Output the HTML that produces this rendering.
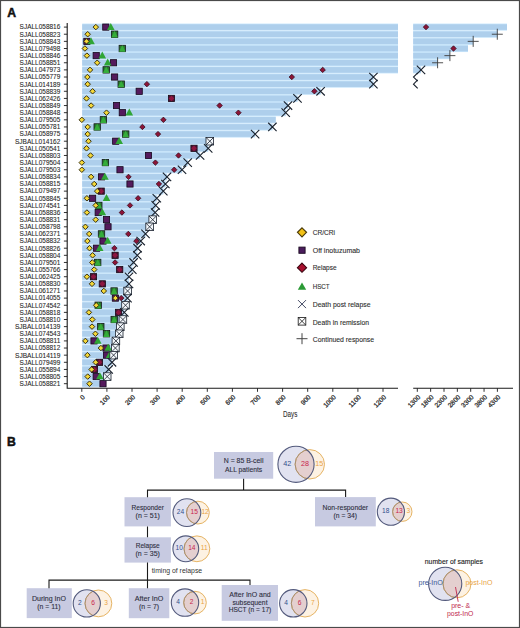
<!DOCTYPE html>
<html><head><meta charset="utf-8"><title>Figure</title>
<style>html,body{margin:0;padding:0;background:#fff;}svg{display:block;font-family:"Liberation Sans",sans-serif;}</style>
</head><body>
<svg width="520" height="628" viewBox="0 0 520 628">
<rect x="0.5" y="0.5" width="519" height="627" fill="#fff" stroke="#4a4a4a" stroke-width="1.2"/>
<text x="7.2" y="17" font-size="12.2" font-weight="bold" fill="#111" stroke="#111" stroke-width="0.5">A</text>
<text x="7.1" y="445.8" font-size="12.2" font-weight="bold" fill="#111" stroke="#111" stroke-width="0.5">B</text>
<g><rect x="82.2" y="23.53" width="315.8" height="7.13" fill="#cae7fc"/><rect x="82.2" y="24.28" width="315.8" height="5.63" fill="#aecfec"/><rect x="413.2" y="23.53" width="93.8" height="7.13" fill="#cae7fc"/><rect x="413.2" y="24.28" width="93.8" height="5.63" fill="#aecfec"/><rect x="82.2" y="30.67" width="315.8" height="7.13" fill="#cae7fc"/><rect x="82.2" y="31.42" width="315.8" height="5.63" fill="#aecfec"/><rect x="413.2" y="30.67" width="84.1" height="7.13" fill="#cae7fc"/><rect x="413.2" y="31.42" width="84.1" height="5.63" fill="#aecfec"/><rect x="82.2" y="37.8" width="315.8" height="7.13" fill="#cae7fc"/><rect x="82.2" y="38.55" width="315.8" height="5.63" fill="#aecfec"/><rect x="413.2" y="37.8" width="60" height="7.13" fill="#cae7fc"/><rect x="413.2" y="38.55" width="60" height="5.63" fill="#aecfec"/><rect x="82.2" y="44.93" width="315.8" height="7.13" fill="#cae7fc"/><rect x="82.2" y="45.68" width="315.8" height="5.63" fill="#aecfec"/><rect x="413.2" y="44.93" width="54.8" height="7.13" fill="#cae7fc"/><rect x="413.2" y="45.68" width="54.8" height="5.63" fill="#aecfec"/><rect x="82.2" y="52.06" width="315.8" height="7.13" fill="#cae7fc"/><rect x="82.2" y="52.81" width="315.8" height="5.63" fill="#aecfec"/><rect x="413.2" y="52.06" width="36.8" height="7.13" fill="#cae7fc"/><rect x="413.2" y="52.81" width="36.8" height="5.63" fill="#aecfec"/><rect x="82.2" y="59.19" width="315.8" height="7.13" fill="#cae7fc"/><rect x="82.2" y="59.94" width="315.8" height="5.63" fill="#aecfec"/><rect x="413.2" y="59.19" width="24.4" height="7.13" fill="#cae7fc"/><rect x="413.2" y="59.94" width="24.4" height="5.63" fill="#aecfec"/><rect x="82.2" y="66.33" width="315.8" height="7.13" fill="#cae7fc"/><rect x="82.2" y="67.08" width="315.8" height="5.63" fill="#aecfec"/><rect x="413.2" y="66.33" width="7.8" height="7.13" fill="#cae7fc"/><rect x="413.2" y="67.08" width="7.8" height="5.63" fill="#aecfec"/><rect x="82.2" y="73.46" width="291.2" height="7.13" fill="#cae7fc"/><rect x="82.2" y="74.21" width="291.2" height="5.63" fill="#aecfec"/><rect x="82.2" y="80.59" width="291.2" height="7.13" fill="#cae7fc"/><rect x="82.2" y="81.34" width="291.2" height="5.63" fill="#aecfec"/><rect x="82.2" y="87.72" width="238.4" height="7.13" fill="#cae7fc"/><rect x="82.2" y="88.47" width="238.4" height="5.63" fill="#aecfec"/><rect x="82.2" y="94.85" width="215.3" height="7.13" fill="#cae7fc"/><rect x="82.2" y="95.6" width="215.3" height="5.63" fill="#aecfec"/><rect x="82.2" y="101.99" width="205.8" height="7.13" fill="#cae7fc"/><rect x="82.2" y="102.74" width="205.8" height="5.63" fill="#aecfec"/><rect x="82.2" y="109.12" width="203.5" height="7.13" fill="#cae7fc"/><rect x="82.2" y="109.87" width="203.5" height="5.63" fill="#aecfec"/><rect x="82.2" y="116.25" width="193.5" height="7.13" fill="#cae7fc"/><rect x="82.2" y="117" width="193.5" height="5.63" fill="#aecfec"/><rect x="82.2" y="123.38" width="190.2" height="7.13" fill="#cae7fc"/><rect x="82.2" y="124.13" width="190.2" height="5.63" fill="#aecfec"/><rect x="82.2" y="130.51" width="172.9" height="7.13" fill="#cae7fc"/><rect x="82.2" y="131.26" width="172.9" height="5.63" fill="#aecfec"/><rect x="82.2" y="137.65" width="127.6" height="7.13" fill="#cae7fc"/><rect x="82.2" y="138.4" width="127.6" height="5.63" fill="#aecfec"/><rect x="82.2" y="144.78" width="126" height="7.13" fill="#cae7fc"/><rect x="82.2" y="145.53" width="126" height="5.63" fill="#aecfec"/><rect x="82.2" y="151.91" width="117.9" height="7.13" fill="#cae7fc"/><rect x="82.2" y="152.66" width="117.9" height="5.63" fill="#aecfec"/><rect x="82.2" y="159.04" width="105.5" height="7.13" fill="#cae7fc"/><rect x="82.2" y="159.79" width="105.5" height="5.63" fill="#aecfec"/><rect x="82.2" y="166.17" width="99.8" height="7.13" fill="#cae7fc"/><rect x="82.2" y="166.92" width="99.8" height="5.63" fill="#aecfec"/><rect x="82.2" y="173.31" width="84.8" height="7.13" fill="#cae7fc"/><rect x="82.2" y="174.06" width="84.8" height="5.63" fill="#aecfec"/><rect x="82.2" y="180.44" width="83.2" height="7.13" fill="#cae7fc"/><rect x="82.2" y="181.19" width="83.2" height="5.63" fill="#aecfec"/><rect x="82.2" y="187.57" width="81.1" height="7.13" fill="#cae7fc"/><rect x="82.2" y="188.32" width="81.1" height="5.63" fill="#aecfec"/><rect x="82.2" y="194.7" width="74.6" height="7.13" fill="#cae7fc"/><rect x="82.2" y="195.45" width="74.6" height="5.63" fill="#aecfec"/><rect x="82.2" y="201.83" width="73.5" height="7.13" fill="#cae7fc"/><rect x="82.2" y="202.58" width="73.5" height="5.63" fill="#aecfec"/><rect x="82.2" y="208.97" width="72.9" height="7.13" fill="#cae7fc"/><rect x="82.2" y="209.72" width="72.9" height="5.63" fill="#aecfec"/><rect x="82.2" y="216.1" width="70.5" height="7.13" fill="#cae7fc"/><rect x="82.2" y="216.85" width="70.5" height="5.63" fill="#aecfec"/><rect x="82.2" y="223.23" width="67.4" height="7.13" fill="#cae7fc"/><rect x="82.2" y="223.98" width="67.4" height="5.63" fill="#aecfec"/><rect x="82.2" y="230.36" width="63.3" height="7.13" fill="#cae7fc"/><rect x="82.2" y="231.11" width="63.3" height="5.63" fill="#aecfec"/><rect x="82.2" y="237.49" width="58.5" height="7.13" fill="#cae7fc"/><rect x="82.2" y="238.24" width="58.5" height="5.63" fill="#aecfec"/><rect x="82.2" y="244.63" width="55.4" height="7.13" fill="#cae7fc"/><rect x="82.2" y="245.38" width="55.4" height="5.63" fill="#aecfec"/><rect x="82.2" y="251.76" width="55.1" height="7.13" fill="#cae7fc"/><rect x="82.2" y="252.51" width="55.1" height="5.63" fill="#aecfec"/><rect x="82.2" y="258.89" width="51.4" height="7.13" fill="#cae7fc"/><rect x="82.2" y="259.64" width="51.4" height="5.63" fill="#aecfec"/><rect x="82.2" y="266.02" width="50.1" height="7.13" fill="#cae7fc"/><rect x="82.2" y="266.77" width="50.1" height="5.63" fill="#aecfec"/><rect x="82.2" y="273.15" width="46.8" height="7.13" fill="#cae7fc"/><rect x="82.2" y="273.9" width="46.8" height="5.63" fill="#aecfec"/><rect x="82.2" y="280.29" width="46.8" height="7.13" fill="#cae7fc"/><rect x="82.2" y="281.04" width="46.8" height="5.63" fill="#aecfec"/><rect x="82.2" y="287.42" width="45.4" height="7.13" fill="#cae7fc"/><rect x="82.2" y="288.17" width="45.4" height="5.63" fill="#aecfec"/><rect x="82.2" y="294.55" width="45.3" height="7.13" fill="#cae7fc"/><rect x="82.2" y="295.3" width="45.3" height="5.63" fill="#aecfec"/><rect x="82.2" y="301.68" width="43.3" height="7.13" fill="#cae7fc"/><rect x="82.2" y="302.43" width="43.3" height="5.63" fill="#aecfec"/><rect x="82.2" y="308.81" width="42.1" height="7.13" fill="#cae7fc"/><rect x="82.2" y="309.56" width="42.1" height="5.63" fill="#aecfec"/><rect x="82.2" y="315.95" width="40.7" height="7.13" fill="#cae7fc"/><rect x="82.2" y="316.7" width="40.7" height="5.63" fill="#aecfec"/><rect x="82.2" y="323.08" width="38.1" height="7.13" fill="#cae7fc"/><rect x="82.2" y="323.83" width="38.1" height="5.63" fill="#aecfec"/><rect x="82.2" y="330.21" width="37" height="7.13" fill="#cae7fc"/><rect x="82.2" y="330.96" width="37" height="5.63" fill="#aecfec"/><rect x="82.2" y="337.34" width="33.7" height="7.13" fill="#cae7fc"/><rect x="82.2" y="338.09" width="33.7" height="5.63" fill="#aecfec"/><rect x="82.2" y="344.47" width="33.2" height="7.13" fill="#cae7fc"/><rect x="82.2" y="345.22" width="33.2" height="5.63" fill="#aecfec"/><rect x="82.2" y="351.61" width="31.4" height="7.13" fill="#cae7fc"/><rect x="82.2" y="352.36" width="31.4" height="5.63" fill="#aecfec"/><rect x="82.2" y="358.74" width="29.8" height="7.13" fill="#cae7fc"/><rect x="82.2" y="359.49" width="29.8" height="5.63" fill="#aecfec"/><rect x="82.2" y="365.87" width="26.5" height="7.13" fill="#cae7fc"/><rect x="82.2" y="366.62" width="26.5" height="5.63" fill="#aecfec"/><rect x="82.2" y="373" width="25" height="7.13" fill="#cae7fc"/><rect x="82.2" y="373.75" width="25" height="5.63" fill="#aecfec"/><rect x="82.2" y="380.13" width="23.8" height="7.13" fill="#cae7fc"/><rect x="82.2" y="380.88" width="23.8" height="5.63" fill="#aecfec"/></g>
<path d="M67.2 23.1V388.3H398" stroke="#1a1a1a" stroke-width="1.1" fill="none"/>
<path d="M413.2 388.3H513" stroke="#1a1a1a" stroke-width="1.1" fill="none"/>
<path d="M63.9 27.1H67.2M63.9 34.23H67.2M63.9 41.36H67.2M63.9 48.5H67.2M63.9 55.63H67.2M63.9 62.76H67.2M63.9 69.89H67.2M63.9 77.02H67.2M63.9 84.16H67.2M63.9 91.29H67.2M63.9 98.42H67.2M63.9 105.55H67.2M63.9 112.68H67.2M63.9 119.82H67.2M63.9 126.95H67.2M63.9 134.08H67.2M63.9 141.21H67.2M63.9 148.34H67.2M63.9 155.48H67.2M63.9 162.61H67.2M63.9 169.74H67.2M63.9 176.87H67.2M63.9 184H67.2M63.9 191.14H67.2M63.9 198.27H67.2M63.9 205.4H67.2M63.9 212.53H67.2M63.9 219.66H67.2M63.9 226.8H67.2M63.9 233.93H67.2M63.9 241.06H67.2M63.9 248.19H67.2M63.9 255.32H67.2M63.9 262.46H67.2M63.9 269.59H67.2M63.9 276.72H67.2M63.9 283.85H67.2M63.9 290.98H67.2M63.9 298.12H67.2M63.9 305.25H67.2M63.9 312.38H67.2M63.9 319.51H67.2M63.9 326.64H67.2M63.9 333.78H67.2M63.9 340.91H67.2M63.9 348.04H67.2M63.9 355.17H67.2M63.9 362.3H67.2M63.9 369.44H67.2M63.9 376.57H67.2M63.9 383.7H67.2" stroke="#1a1a1a" stroke-width="0.9"/>
<g font-size="6.6" fill="#262626" stroke="#262626" stroke-width="0.08"><text x="60.3" y="29.45" text-anchor="end" textLength="40.7" lengthAdjust="spacingAndGlyphs">SJALL058816</text><text x="60.3" y="36.58" text-anchor="end" textLength="40.7" lengthAdjust="spacingAndGlyphs">SJALL058823</text><text x="60.3" y="43.71" text-anchor="end" textLength="40.7" lengthAdjust="spacingAndGlyphs">SJALL058843</text><text x="60.3" y="50.85" text-anchor="end" textLength="40.7" lengthAdjust="spacingAndGlyphs">SJALL079498</text><text x="60.3" y="57.98" text-anchor="end" textLength="40.7" lengthAdjust="spacingAndGlyphs">SJALL058846</text><text x="60.3" y="65.11" text-anchor="end" textLength="40.7" lengthAdjust="spacingAndGlyphs">SJALL058851</text><text x="60.3" y="72.24" text-anchor="end" textLength="40.7" lengthAdjust="spacingAndGlyphs">SJALL047973</text><text x="60.3" y="79.37" text-anchor="end" textLength="40.7" lengthAdjust="spacingAndGlyphs">SJALL055779</text><text x="60.3" y="86.51" text-anchor="end" textLength="40.7" lengthAdjust="spacingAndGlyphs">SJALL014189</text><text x="60.3" y="93.64" text-anchor="end" textLength="40.7" lengthAdjust="spacingAndGlyphs">SJALL058839</text><text x="60.3" y="100.77" text-anchor="end" textLength="40.7" lengthAdjust="spacingAndGlyphs">SJALL062426</text><text x="60.3" y="107.9" text-anchor="end" textLength="40.7" lengthAdjust="spacingAndGlyphs">SJALL058849</text><text x="60.3" y="115.03" text-anchor="end" textLength="40.7" lengthAdjust="spacingAndGlyphs">SJALL058848</text><text x="60.3" y="122.17" text-anchor="end" textLength="40.7" lengthAdjust="spacingAndGlyphs">SJALL079505</text><text x="60.3" y="129.3" text-anchor="end" textLength="40.7" lengthAdjust="spacingAndGlyphs">SJALL055781</text><text x="60.3" y="136.43" text-anchor="end" textLength="40.7" lengthAdjust="spacingAndGlyphs">SJALL058975</text><text x="60.3" y="143.56" text-anchor="end" textLength="45.3" lengthAdjust="spacingAndGlyphs">SJBALL014162</text><text x="60.3" y="150.69" text-anchor="end" textLength="40.7" lengthAdjust="spacingAndGlyphs">SJALL050541</text><text x="60.3" y="157.83" text-anchor="end" textLength="40.7" lengthAdjust="spacingAndGlyphs">SJALL058803</text><text x="60.3" y="164.96" text-anchor="end" textLength="40.7" lengthAdjust="spacingAndGlyphs">SJALL079504</text><text x="60.3" y="172.09" text-anchor="end" textLength="40.7" lengthAdjust="spacingAndGlyphs">SJALL079503</text><text x="60.3" y="179.22" text-anchor="end" textLength="40.7" lengthAdjust="spacingAndGlyphs">SJALL058834</text><text x="60.3" y="186.35" text-anchor="end" textLength="40.7" lengthAdjust="spacingAndGlyphs">SJALL058815</text><text x="60.3" y="193.49" text-anchor="end" textLength="40.7" lengthAdjust="spacingAndGlyphs">SJALL079497</text><text x="60.3" y="200.62" text-anchor="end" textLength="40.7" lengthAdjust="spacingAndGlyphs">SJALL058845</text><text x="60.3" y="207.75" text-anchor="end" textLength="40.7" lengthAdjust="spacingAndGlyphs">SJALL074541</text><text x="60.3" y="214.88" text-anchor="end" textLength="40.7" lengthAdjust="spacingAndGlyphs">SJALL058836</text><text x="60.3" y="222.01" text-anchor="end" textLength="40.7" lengthAdjust="spacingAndGlyphs">SJALL058831</text><text x="60.3" y="229.15" text-anchor="end" textLength="40.7" lengthAdjust="spacingAndGlyphs">SJALL058798</text><text x="60.3" y="236.28" text-anchor="end" textLength="40.7" lengthAdjust="spacingAndGlyphs">SJALL062371</text><text x="60.3" y="243.41" text-anchor="end" textLength="40.7" lengthAdjust="spacingAndGlyphs">SJALL058832</text><text x="60.3" y="250.54" text-anchor="end" textLength="40.7" lengthAdjust="spacingAndGlyphs">SJALL058826</text><text x="60.3" y="257.67" text-anchor="end" textLength="40.7" lengthAdjust="spacingAndGlyphs">SJALL058804</text><text x="60.3" y="264.81" text-anchor="end" textLength="40.7" lengthAdjust="spacingAndGlyphs">SJALL079501</text><text x="60.3" y="271.94" text-anchor="end" textLength="40.7" lengthAdjust="spacingAndGlyphs">SJALL055766</text><text x="60.3" y="279.07" text-anchor="end" textLength="40.7" lengthAdjust="spacingAndGlyphs">SJALL062425</text><text x="60.3" y="286.2" text-anchor="end" textLength="40.7" lengthAdjust="spacingAndGlyphs">SJALL058830</text><text x="60.3" y="293.33" text-anchor="end" textLength="40.7" lengthAdjust="spacingAndGlyphs">SJALL061271</text><text x="60.3" y="300.47" text-anchor="end" textLength="40.7" lengthAdjust="spacingAndGlyphs">SJALL014055</text><text x="60.3" y="307.6" text-anchor="end" textLength="40.7" lengthAdjust="spacingAndGlyphs">SJALL074542</text><text x="60.3" y="314.73" text-anchor="end" textLength="40.7" lengthAdjust="spacingAndGlyphs">SJALL058818</text><text x="60.3" y="321.86" text-anchor="end" textLength="40.7" lengthAdjust="spacingAndGlyphs">SJALL058810</text><text x="60.3" y="328.99" text-anchor="end" textLength="45.3" lengthAdjust="spacingAndGlyphs">SJBALL014139</text><text x="60.3" y="336.13" text-anchor="end" textLength="40.7" lengthAdjust="spacingAndGlyphs">SJALL074543</text><text x="60.3" y="343.26" text-anchor="end" textLength="40.7" lengthAdjust="spacingAndGlyphs">SJALL058811</text><text x="60.3" y="350.39" text-anchor="end" textLength="40.7" lengthAdjust="spacingAndGlyphs">SJALL058812</text><text x="60.3" y="357.52" text-anchor="end" textLength="45.3" lengthAdjust="spacingAndGlyphs">SJBALL014119</text><text x="60.3" y="364.65" text-anchor="end" textLength="40.7" lengthAdjust="spacingAndGlyphs">SJALL079499</text><text x="60.3" y="371.79" text-anchor="end" textLength="40.7" lengthAdjust="spacingAndGlyphs">SJALL055894</text><text x="60.3" y="378.92" text-anchor="end" textLength="40.7" lengthAdjust="spacingAndGlyphs">SJALL058805</text><text x="60.3" y="386.05" text-anchor="end" textLength="40.7" lengthAdjust="spacingAndGlyphs">SJALL058821</text></g>
<path d="M81.8 388.3V391.8M106.9 388.3V391.8M132 388.3V391.8M157.1 388.3V391.8M182.2 388.3V391.8M207.3 388.3V391.8M232.4 388.3V391.8M257.5 388.3V391.8M282.6 388.3V391.8M307.7 388.3V391.8M332.8 388.3V391.8M357.9 388.3V391.8M383 388.3V391.8M417.3 388.3V391.8M430.65 388.3V391.8M444 388.3V391.8M457.35 388.3V391.8M470.7 388.3V391.8M484.05 388.3V391.8M497.4 388.3V391.8" stroke="#1a1a1a" stroke-width="0.9"/>
<g font-size="6.6" fill="#2a2a2a"><text stroke="#2a2a2a" stroke-width="0.25" transform="translate(85.3 397.6) rotate(-45)" text-anchor="end">0</text><text stroke="#2a2a2a" stroke-width="0.25" transform="translate(110.4 397.6) rotate(-45)" text-anchor="end">100</text><text stroke="#2a2a2a" stroke-width="0.25" transform="translate(135.5 397.6) rotate(-45)" text-anchor="end">200</text><text stroke="#2a2a2a" stroke-width="0.25" transform="translate(160.6 397.6) rotate(-45)" text-anchor="end">300</text><text stroke="#2a2a2a" stroke-width="0.25" transform="translate(185.7 397.6) rotate(-45)" text-anchor="end">400</text><text stroke="#2a2a2a" stroke-width="0.25" transform="translate(210.8 397.6) rotate(-45)" text-anchor="end">500</text><text stroke="#2a2a2a" stroke-width="0.25" transform="translate(235.9 397.6) rotate(-45)" text-anchor="end">600</text><text stroke="#2a2a2a" stroke-width="0.25" transform="translate(261 397.6) rotate(-45)" text-anchor="end">700</text><text stroke="#2a2a2a" stroke-width="0.25" transform="translate(286.1 397.6) rotate(-45)" text-anchor="end">800</text><text stroke="#2a2a2a" stroke-width="0.25" transform="translate(311.2 397.6) rotate(-45)" text-anchor="end">900</text><text stroke="#2a2a2a" stroke-width="0.25" transform="translate(336.3 397.6) rotate(-45)" text-anchor="end">1000</text><text stroke="#2a2a2a" stroke-width="0.25" transform="translate(361.4 397.6) rotate(-45)" text-anchor="end">1100</text><text stroke="#2a2a2a" stroke-width="0.25" transform="translate(386.5 397.6) rotate(-45)" text-anchor="end">1200</text><text stroke="#2a2a2a" stroke-width="0.25" transform="translate(420.8 397.6) rotate(-45)" text-anchor="end">1300</text><text stroke="#2a2a2a" stroke-width="0.25" transform="translate(434.15 397.6) rotate(-45)" text-anchor="end">1800</text><text stroke="#2a2a2a" stroke-width="0.25" transform="translate(447.5 397.6) rotate(-45)" text-anchor="end">2300</text><text stroke="#2a2a2a" stroke-width="0.25" transform="translate(460.85 397.6) rotate(-45)" text-anchor="end">2800</text><text stroke="#2a2a2a" stroke-width="0.25" transform="translate(474.2 397.6) rotate(-45)" text-anchor="end">3300</text><text stroke="#2a2a2a" stroke-width="0.25" transform="translate(487.55 397.6) rotate(-45)" text-anchor="end">3800</text><text stroke="#2a2a2a" stroke-width="0.25" transform="translate(500.9 397.6) rotate(-45)" text-anchor="end">4300</text></g>
<text x="290.2" y="416.7" font-size="8.2" fill="#333" stroke="#333" stroke-width="0.1" text-anchor="middle" textLength="14.4" lengthAdjust="spacingAndGlyphs">Days</text>
<g><rect x="102.7" y="24" width="6.2" height="6.2" fill="#541a5c" stroke="#16081c" stroke-width="0.8"/><rect x="111.4" y="31.03" width="6.4" height="6.4" fill="#2a7a2e" stroke="#14181a" stroke-width="0.8"/><rect x="83.8" y="38.26" width="6.2" height="6.2" fill="#541a5c" stroke="#16081c" stroke-width="0.8"/><rect x="119.1" y="45.3" width="6.4" height="6.4" fill="#2a7a2e" stroke="#14181a" stroke-width="0.8"/><rect x="93.1" y="52.53" width="6.2" height="6.2" fill="#541a5c" stroke="#16081c" stroke-width="0.8"/><rect x="110.4" y="59.66" width="6.2" height="6.2" fill="#541a5c" stroke="#16081c" stroke-width="0.8"/><rect x="103" y="66.69" width="6.4" height="6.4" fill="#2a7a2e" stroke="#14181a" stroke-width="0.8"/><rect x="111.5" y="73.92" width="6.2" height="6.2" fill="#541a5c" stroke="#16081c" stroke-width="0.8"/><rect x="118" y="80.96" width="6.4" height="6.4" fill="#2a7a2e" stroke="#14181a" stroke-width="0.8"/><rect x="136.1" y="88.19" width="6.2" height="6.2" fill="#541a5c" stroke="#16081c" stroke-width="0.8"/><rect x="168.4" y="95.32" width="6.2" height="6.2" fill="#4c1234" stroke="#1a0814" stroke-width="0.8"/><rect x="113.4" y="102.45" width="6.2" height="6.2" fill="#541a5c" stroke="#16081c" stroke-width="0.8"/><rect x="119.2" y="109.58" width="6.2" height="6.2" fill="#541a5c" stroke="#16081c" stroke-width="0.8"/><rect x="100.2" y="116.62" width="6.4" height="6.4" fill="#2a7a2e" stroke="#14181a" stroke-width="0.8"/><rect x="94" y="123.75" width="6.4" height="6.4" fill="#2a7a2e" stroke="#14181a" stroke-width="0.8"/><rect x="122.5" y="130.88" width="6.4" height="6.4" fill="#2a7a2e" stroke="#14181a" stroke-width="0.8"/><rect x="112.6" y="138.11" width="6.2" height="6.2" fill="#541a5c" stroke="#16081c" stroke-width="0.8"/><rect x="190.9" y="145.24" width="6.2" height="6.2" fill="#4c1234" stroke="#1a0814" stroke-width="0.8"/><rect x="145.4" y="152.38" width="6.2" height="6.2" fill="#541a5c" stroke="#16081c" stroke-width="0.8"/><rect x="102.2" y="159.41" width="6.4" height="6.4" fill="#2a7a2e" stroke="#14181a" stroke-width="0.8"/><rect x="116.9" y="166.64" width="6.2" height="6.2" fill="#541a5c" stroke="#16081c" stroke-width="0.8"/><rect x="98.4" y="173.77" width="6.2" height="6.2" fill="#541a5c" stroke="#16081c" stroke-width="0.8"/><rect x="126.9" y="180.9" width="6.2" height="6.2" fill="#541a5c" stroke="#16081c" stroke-width="0.8"/><rect x="98.1" y="188.04" width="6.2" height="6.2" fill="#4c1234" stroke="#1a0814" stroke-width="0.8"/><rect x="89.5" y="195.17" width="6.2" height="6.2" fill="#541a5c" stroke="#16081c" stroke-width="0.8"/><rect x="95.6" y="202.2" width="6.4" height="6.4" fill="#2a7a2e" stroke="#14181a" stroke-width="0.8"/><rect x="95.1" y="209.43" width="6.2" height="6.2" fill="#541a5c" stroke="#16081c" stroke-width="0.8"/><rect x="103.4" y="216.56" width="6.2" height="6.2" fill="#541a5c" stroke="#16081c" stroke-width="0.8"/><rect x="104.9" y="223.7" width="6.2" height="6.2" fill="#541a5c" stroke="#16081c" stroke-width="0.8"/><rect x="98.3" y="230.73" width="6.4" height="6.4" fill="#2a7a2e" stroke="#14181a" stroke-width="0.8"/><rect x="99.9" y="237.96" width="6.2" height="6.2" fill="#541a5c" stroke="#16081c" stroke-width="0.8"/><rect x="93.5" y="245.09" width="6.2" height="6.2" fill="#541a5c" stroke="#16081c" stroke-width="0.8"/><rect x="112" y="252.22" width="6.2" height="6.2" fill="#4c1234" stroke="#1a0814" stroke-width="0.8"/><rect x="94.5" y="259.26" width="6.4" height="6.4" fill="#2a7a2e" stroke="#14181a" stroke-width="0.8"/><rect x="116.6" y="266.49" width="6.2" height="6.2" fill="#4c1234" stroke="#1a0814" stroke-width="0.8"/><rect x="90.4" y="273.62" width="6.2" height="6.2" fill="#4c1234" stroke="#1a0814" stroke-width="0.8"/><rect x="99.2" y="280.75" width="6.2" height="6.2" fill="#4c1234" stroke="#1a0814" stroke-width="0.8"/><rect x="110.9" y="287.78" width="6.4" height="6.4" fill="#2a7a2e" stroke="#14181a" stroke-width="0.8"/><rect x="112.3" y="295.02" width="6.2" height="6.2" fill="#541a5c" stroke="#16081c" stroke-width="0.8"/><rect x="95" y="302.05" width="6.4" height="6.4" fill="#2a7a2e" stroke="#14181a" stroke-width="0.8"/><rect x="115.4" y="309.28" width="6.2" height="6.2" fill="#4c1234" stroke="#1a0814" stroke-width="0.8"/><rect x="111" y="316.31" width="6.4" height="6.4" fill="#2a7a2e" stroke="#14181a" stroke-width="0.8"/><rect x="97.6" y="323.44" width="6.4" height="6.4" fill="#2a7a2e" stroke="#14181a" stroke-width="0.8"/><rect x="103.3" y="330.58" width="6.4" height="6.4" fill="#2a7a2e" stroke="#14181a" stroke-width="0.8"/><rect x="90.9" y="337.81" width="6.2" height="6.2" fill="#541a5c" stroke="#16081c" stroke-width="0.8"/><rect x="102.9" y="344.94" width="6.2" height="6.2" fill="#541a5c" stroke="#16081c" stroke-width="0.8"/><rect x="103.4" y="352.07" width="6.2" height="6.2" fill="#541a5c" stroke="#16081c" stroke-width="0.8"/><rect x="96.4" y="359.2" width="6.2" height="6.2" fill="#4c1234" stroke="#1a0814" stroke-width="0.8"/><rect x="91.4" y="366.34" width="6.2" height="6.2" fill="#4c1234" stroke="#1a0814" stroke-width="0.8"/><rect x="93.1" y="373.47" width="6.2" height="6.2" fill="#541a5c" stroke="#16081c" stroke-width="0.8"/><rect x="99.9" y="380.6" width="6.2" height="6.2" fill="#541a5c" stroke="#16081c" stroke-width="0.8"/><path d="M110.8 22.9L114.6 29.9L107 29.9Z" fill="#2fa535"/><path d="M114.6 30.73L117.9 37.43L111.3 37.43Z" fill="#35ad3a"/><path d="M91 37.16L94.8 44.16L87.2 44.16Z" fill="#2fa535"/><path d="M122.3 45L125.6 51.7L119 51.7Z" fill="#35ad3a"/><path d="M102.3 51.43L106.1 58.43L98.5 58.43Z" fill="#2fa535"/><path d="M107.7 58.56L111.5 65.56L103.9 65.56Z" fill="#2fa535"/><path d="M106.2 66.39L109.5 73.09L102.9 73.09Z" fill="#35ad3a"/><path d="M121.2 80.66L124.5 87.36L117.9 87.36Z" fill="#35ad3a"/><path d="M129.3 108.48L133.1 115.48L125.5 115.48Z" fill="#2fa535"/><path d="M103.4 116.32L106.7 123.02L100.1 123.02Z" fill="#35ad3a"/><path d="M97.2 123.45L100.5 130.15L93.9 130.15Z" fill="#35ad3a"/><path d="M125.7 130.58L129 137.28L122.4 137.28Z" fill="#35ad3a"/><path d="M119.2 137.01L123 144.01L115.4 144.01Z" fill="#2fa535"/><path d="M105.4 159.11L108.7 165.81L102.1 165.81Z" fill="#35ad3a"/><path d="M104.9 172.67L108.7 179.67L101.1 179.67Z" fill="#2fa535"/><path d="M106.5 194.07L110.3 201.07L102.7 201.07Z" fill="#2fa535"/><path d="M98.8 201.9L102.1 208.6L95.5 208.6Z" fill="#35ad3a"/><path d="M102.3 208.33L106.1 215.33L98.5 215.33Z" fill="#2fa535"/><path d="M101.5 230.43L104.8 237.13L98.2 237.13Z" fill="#35ad3a"/><path d="M107.7 236.86L111.5 243.86L103.9 243.86Z" fill="#2fa535"/><path d="M99.7 243.99L103.5 250.99L95.9 250.99Z" fill="#2fa535"/><path d="M97.7 258.96L101 265.66L94.4 265.66Z" fill="#35ad3a"/><path d="M114.1 287.48L117.4 294.18L110.8 294.18Z" fill="#35ad3a"/><path d="M98.2 301.75L101.5 308.45L94.9 308.45Z" fill="#35ad3a"/><path d="M114.2 316.01L117.5 322.71L110.9 322.71Z" fill="#35ad3a"/><path d="M100.8 323.14L104.1 329.84L97.5 329.84Z" fill="#35ad3a"/><path d="M106.5 330.28L109.8 336.98L103.2 336.98Z" fill="#35ad3a"/><path d="M97.8 336.71L101.6 343.71L94 343.71Z" fill="#2fa535"/><path d="M108.2 343.84L112 350.84L104.4 350.84Z" fill="#2fa535"/><path d="M109.6 350.97L113.4 357.97L105.8 357.97Z" fill="#2fa535"/><path d="M99.9 372.37L103.7 379.37L96.1 379.37Z" fill="#2fa535"/><path d="M426 24.4L428.7 27.1L426 29.8L423.3 27.1Z" fill="#8c1438" stroke="#3a0a1a" stroke-width="0.8"/><path d="M453.5 45.8L456.2 48.5L453.5 51.2L450.8 48.5Z" fill="#8c1438" stroke="#3a0a1a" stroke-width="0.8"/><path d="M322.7 67.19L325.4 69.89L322.7 72.59L320 69.89Z" fill="#8c1438" stroke="#3a0a1a" stroke-width="0.8"/><path d="M291.8 74.32L294.5 77.02L291.8 79.72L289.1 77.02Z" fill="#8c1438" stroke="#3a0a1a" stroke-width="0.8"/><path d="M146.9 81.46L149.6 84.16L146.9 86.86L144.2 84.16Z" fill="#8c1438" stroke="#3a0a1a" stroke-width="0.8"/><path d="M314.4 88.59L317.1 91.29L314.4 93.99L311.7 91.29Z" fill="#8c1438" stroke="#3a0a1a" stroke-width="0.8"/><path d="M171.5 95.62L174.3 98.42L171.5 101.22L168.7 98.42Z" fill="#8e1640" stroke="none" stroke-width="0"/><path d="M219.6 102.85L222.3 105.55L219.6 108.25L216.9 105.55Z" fill="#8c1438" stroke="#3a0a1a" stroke-width="0.8"/><path d="M238.4 109.98L241.1 112.68L238.4 115.38L235.7 112.68Z" fill="#8c1438" stroke="#3a0a1a" stroke-width="0.8"/><path d="M163.4 117.12L166.1 119.82L163.4 122.52L160.7 119.82Z" fill="#8c1438" stroke="#3a0a1a" stroke-width="0.8"/><path d="M142.4 124.25L145.1 126.95L142.4 129.65L139.7 126.95Z" fill="#8c1438" stroke="#3a0a1a" stroke-width="0.8"/><path d="M158 131.38L160.7 134.08L158 136.78L155.3 134.08Z" fill="#8c1438" stroke="#3a0a1a" stroke-width="0.8"/><path d="M194 145.54L196.8 148.34L194 151.14L191.2 148.34Z" fill="#8e1640" stroke="none" stroke-width="0"/><path d="M178.5 152.78L181.2 155.48L178.5 158.18L175.8 155.48Z" fill="#8c1438" stroke="#3a0a1a" stroke-width="0.8"/><path d="M155.4 159.91L158.1 162.61L155.4 165.31L152.7 162.61Z" fill="#8c1438" stroke="#3a0a1a" stroke-width="0.8"/><path d="M174.2 167.04L176.9 169.74L174.2 172.44L171.5 169.74Z" fill="#8c1438" stroke="#3a0a1a" stroke-width="0.8"/><path d="M128.5 174.17L131.2 176.87L128.5 179.57L125.8 176.87Z" fill="#8c1438" stroke="#3a0a1a" stroke-width="0.8"/><path d="M158.9 181.3L161.6 184L158.9 186.7L156.2 184Z" fill="#8c1438" stroke="#3a0a1a" stroke-width="0.8"/><path d="M101.2 188.34L104 191.14L101.2 193.94L98.4 191.14Z" fill="#8e1640" stroke="none" stroke-width="0"/><path d="M138.1 195.57L140.8 198.27L138.1 200.97L135.4 198.27Z" fill="#8c1438" stroke="#3a0a1a" stroke-width="0.8"/><path d="M130 202.7L132.7 205.4L130 208.1L127.3 205.4Z" fill="#8c1438" stroke="#3a0a1a" stroke-width="0.8"/><path d="M121.9 209.83L124.6 212.53L121.9 215.23L119.2 212.53Z" fill="#8c1438" stroke="#3a0a1a" stroke-width="0.8"/><path d="M128.3 231.23L131 233.93L128.3 236.63L125.6 233.93Z" fill="#8c1438" stroke="#3a0a1a" stroke-width="0.8"/><path d="M136.4 238.36L139.1 241.06L136.4 243.76L133.7 241.06Z" fill="#8c1438" stroke="#3a0a1a" stroke-width="0.8"/><path d="M114.4 245.49L117.1 248.19L114.4 250.89L111.7 248.19Z" fill="#8c1438" stroke="#3a0a1a" stroke-width="0.8"/><path d="M115.1 252.52L117.9 255.32L115.1 258.12L112.3 255.32Z" fill="#8e1640" stroke="none" stroke-width="0"/><path d="M115.1 259.76L117.8 262.46L115.1 265.16L112.4 262.46Z" fill="#8c1438" stroke="#3a0a1a" stroke-width="0.8"/><path d="M119.7 266.79L122.5 269.59L119.7 272.39L116.9 269.59Z" fill="#8e1640" stroke="none" stroke-width="0"/><path d="M93.5 273.92L96.3 276.72L93.5 279.52L90.7 276.72Z" fill="#8e1640" stroke="none" stroke-width="0"/><path d="M102.3 281.05L105.1 283.85L102.3 286.65L99.5 283.85Z" fill="#8e1640" stroke="none" stroke-width="0"/><path d="M121.2 295.42L123.9 298.12L121.2 300.82L118.5 298.12Z" fill="#8c1438" stroke="#3a0a1a" stroke-width="0.8"/><path d="M118.5 309.58L121.3 312.38L118.5 315.18L115.7 312.38Z" fill="#8e1640" stroke="none" stroke-width="0"/><path d="M99.5 359.5L102.3 362.3L99.5 365.1L96.7 362.3Z" fill="#8e1640" stroke="none" stroke-width="0"/><path d="M94.5 366.64L97.3 369.44L94.5 372.24L91.7 369.44Z" fill="#8e1640" stroke="none" stroke-width="0"/><path d="M95.8 24.35L98.55 27.1L95.8 29.85L93.05 27.1Z" fill="#f4d838" stroke="#3a3310" stroke-width="1.0"/><path d="M87.7 31.48L90.45 34.23L87.7 36.98L84.95 34.23Z" fill="#f4d838" stroke="#3a3310" stroke-width="1.0"/><path d="M86.5 38.61L89.25 41.36L86.5 44.11L83.75 41.36Z" fill="#f4d838" stroke="#3a3310" stroke-width="1.0"/><path d="M84.9 45.75L87.65 48.5L84.9 51.25L82.15 48.5Z" fill="#f4d838" stroke="#3a3310" stroke-width="1.0"/><path d="M86.9 52.88L89.65 55.63L86.9 58.38L84.15 55.63Z" fill="#f4d838" stroke="#3a3310" stroke-width="1.0"/><path d="M97.2 60.01L99.95 62.76L97.2 65.51L94.45 62.76Z" fill="#f4d838" stroke="#3a3310" stroke-width="1.0"/><path d="M90 67.14L92.75 69.89L90 72.64L87.25 69.89Z" fill="#f4d838" stroke="#3a3310" stroke-width="1.0"/><path d="M87.4 74.27L90.15 77.02L87.4 79.77L84.65 77.02Z" fill="#f4d838" stroke="#3a3310" stroke-width="1.0"/><path d="M87.7 81.41L90.45 84.16L87.7 86.91L84.95 84.16Z" fill="#f4d838" stroke="#3a3310" stroke-width="1.0"/><path d="M92.6 88.54L95.35 91.29L92.6 94.04L89.85 91.29Z" fill="#f4d838" stroke="#3a3310" stroke-width="1.0"/><path d="M86.5 95.67L89.25 98.42L86.5 101.17L83.75 98.42Z" fill="#f4d838" stroke="#3a3310" stroke-width="1.0"/><path d="M91.1 102.8L93.85 105.55L91.1 108.3L88.35 105.55Z" fill="#f4d838" stroke="#3a3310" stroke-width="1.0"/><path d="M106.5 109.93L109.25 112.68L106.5 115.43L103.75 112.68Z" fill="#f4d838" stroke="#3a3310" stroke-width="1.0"/><path d="M81.8 117.07L84.55 119.82L81.8 122.57L79.05 119.82Z" fill="#f4d838" stroke="#3a3310" stroke-width="1.0"/><path d="M87.7 124.2L90.45 126.95L87.7 129.7L84.95 126.95Z" fill="#f4d838" stroke="#3a3310" stroke-width="1.0"/><path d="M87.7 131.33L90.45 134.08L87.7 136.83L84.95 134.08Z" fill="#f4d838" stroke="#3a3310" stroke-width="1.0"/><path d="M88.5 138.46L91.25 141.21L88.5 143.96L85.75 141.21Z" fill="#f4d838" stroke="#3a3310" stroke-width="1.0"/><path d="M86.5 145.59L89.25 148.34L86.5 151.09L83.75 148.34Z" fill="#f4d838" stroke="#3a3310" stroke-width="1.0"/><path d="M90.5 152.73L93.25 155.48L90.5 158.23L87.75 155.48Z" fill="#f4d838" stroke="#3a3310" stroke-width="1.0"/><path d="M81.8 159.86L84.55 162.61L81.8 165.36L79.05 162.61Z" fill="#f4d838" stroke="#3a3310" stroke-width="1.0"/><path d="M81.8 166.99L84.55 169.74L81.8 172.49L79.05 169.74Z" fill="#f4d838" stroke="#3a3310" stroke-width="1.0"/><path d="M91.1 174.12L93.85 176.87L91.1 179.62L88.35 176.87Z" fill="#f4d838" stroke="#3a3310" stroke-width="1.0"/><path d="M94.2 181.25L96.95 184L94.2 186.75L91.45 184Z" fill="#f4d838" stroke="#3a3310" stroke-width="1.0"/><path d="M97.2 188.39L99.95 191.14L97.2 193.89L94.45 191.14Z" fill="#f4d838" stroke="#3a3310" stroke-width="1.0"/><path d="M86.9 195.52L89.65 198.27L86.9 201.02L84.15 198.27Z" fill="#f4d838" stroke="#3a3310" stroke-width="1.0"/><path d="M95.7 202.65L98.45 205.4L95.7 208.15L92.95 205.4Z" fill="#f4d838" stroke="#3a3310" stroke-width="1.0"/><path d="M86.9 209.78L89.65 212.53L86.9 215.28L84.15 212.53Z" fill="#f4d838" stroke="#3a3310" stroke-width="1.0"/><path d="M95.7 216.91L98.45 219.66L95.7 222.41L92.95 219.66Z" fill="#f4d838" stroke="#3a3310" stroke-width="1.0"/><path d="M85.4 224.05L88.15 226.8L85.4 229.55L82.65 226.8Z" fill="#f4d838" stroke="#3a3310" stroke-width="1.0"/><path d="M89.2 231.18L91.95 233.93L89.2 236.68L86.45 233.93Z" fill="#f4d838" stroke="#3a3310" stroke-width="1.0"/><path d="M87.4 238.31L90.15 241.06L87.4 243.81L84.65 241.06Z" fill="#f4d838" stroke="#3a3310" stroke-width="1.0"/><path d="M89.5 245.44L92.25 248.19L89.5 250.94L86.75 248.19Z" fill="#f4d838" stroke="#3a3310" stroke-width="1.0"/><path d="M92.6 252.57L95.35 255.32L92.6 258.07L89.85 255.32Z" fill="#f4d838" stroke="#3a3310" stroke-width="1.0"/><path d="M92.3 259.71L95.05 262.46L92.3 265.21L89.55 262.46Z" fill="#f4d838" stroke="#3a3310" stroke-width="1.0"/><path d="M94.2 266.84L96.95 269.59L94.2 272.34L91.45 269.59Z" fill="#f4d838" stroke="#3a3310" stroke-width="1.0"/><path d="M86.9 273.97L89.65 276.72L86.9 279.47L84.15 276.72Z" fill="#f4d838" stroke="#3a3310" stroke-width="1.0"/><path d="M92 281.1L94.75 283.85L92 286.6L89.25 283.85Z" fill="#f4d838" stroke="#3a3310" stroke-width="1.0"/><path d="M103.8 288.23L106.55 290.98L103.8 293.73L101.05 290.98Z" fill="#f4d838" stroke="#3a3310" stroke-width="1.0"/><path d="M115.4 295.37L118.15 298.12L115.4 300.87L112.65 298.12Z" fill="#f4d838" stroke="#3a3310" stroke-width="1.0"/><path d="M96.2 302.5L98.95 305.25L96.2 308L93.45 305.25Z" fill="#f4d838" stroke="#3a3310" stroke-width="1.0"/><path d="M88.9 309.63L91.65 312.38L88.9 315.13L86.15 312.38Z" fill="#f4d838" stroke="#3a3310" stroke-width="1.0"/><path d="M92.3 316.76L95.05 319.51L92.3 322.26L89.55 319.51Z" fill="#f4d838" stroke="#3a3310" stroke-width="1.0"/><path d="M92 323.89L94.75 326.64L92 329.39L89.25 326.64Z" fill="#f4d838" stroke="#3a3310" stroke-width="1.0"/><path d="M95.4 331.03L98.15 333.78L95.4 336.53L92.65 333.78Z" fill="#f4d838" stroke="#3a3310" stroke-width="1.0"/><path d="M85.4 338.16L88.15 340.91L85.4 343.66L82.65 340.91Z" fill="#f4d838" stroke="#3a3310" stroke-width="1.0"/><path d="M100.9 345.29L103.65 348.04L100.9 350.79L98.15 348.04Z" fill="#f4d838" stroke="#3a3310" stroke-width="1.0"/><path d="M87.4 352.42L90.15 355.17L87.4 357.92L84.65 355.17Z" fill="#f4d838" stroke="#3a3310" stroke-width="1.0"/><path d="M95.7 359.55L98.45 362.3L95.7 365.05L92.95 362.3Z" fill="#f4d838" stroke="#3a3310" stroke-width="1.0"/><path d="M91.6 366.69L94.35 369.44L91.6 372.19L88.85 369.44Z" fill="#f4d838" stroke="#3a3310" stroke-width="1.0"/><path d="M87.7 373.82L90.45 376.57L87.7 379.32L84.95 376.57Z" fill="#f4d838" stroke="#3a3310" stroke-width="1.0"/><path d="M89.5 380.95L92.25 383.7L89.5 386.45L86.75 383.7Z" fill="#f4d838" stroke="#3a3310" stroke-width="1.0"/><path d="M491.8 34.23L502.8 34.23M497.3 28.73L497.3 39.73" stroke="#3d3d3d" stroke-width="0.9"/><path d="M467.7 41.36L478.7 41.36M473.2 35.86L473.2 46.86" stroke="#3d3d3d" stroke-width="0.9"/><path d="M444.4 55.63L455.4 55.63M449.9 50.13L449.9 61.13" stroke="#3d3d3d" stroke-width="0.9"/><path d="M432.1 62.76L443.1 62.76M437.6 57.26L437.6 68.26" stroke="#3d3d3d" stroke-width="0.9"/><path d="M416.8 65.69L425.2 74.09M416.8 74.09L425.2 65.69" stroke="#18202c" stroke-width="1.1" fill="none"/><path d="M369.2 72.82L377.6 81.22M369.2 81.22L377.6 72.82" stroke="#18202c" stroke-width="1.1" fill="none"/><path d="M417.7 72.82L413.5 77.02L417.7 81.22" stroke="#18202c" stroke-width="1.1" fill="none"/><path d="M369.2 79.96L377.6 88.36M369.2 88.36L377.6 79.96" stroke="#18202c" stroke-width="1.1" fill="none"/><path d="M417.7 79.96L413.5 84.16L417.7 88.36" stroke="#18202c" stroke-width="1.1" fill="none"/><path d="M316.4 87.09L324.8 95.49M316.4 95.49L324.8 87.09" stroke="#18202c" stroke-width="1.1" fill="none"/><path d="M293.3 94.22L301.7 102.62M293.3 102.62L301.7 94.22" stroke="#18202c" stroke-width="1.1" fill="none"/><path d="M283.8 101.35L292.2 109.75M283.8 109.75L292.2 101.35" stroke="#18202c" stroke-width="1.1" fill="none"/><path d="M281.5 108.48L289.9 116.88M281.5 116.88L289.9 108.48" stroke="#18202c" stroke-width="1.1" fill="none"/><path d="M268.2 122.75L276.6 131.15M268.2 131.15L276.6 122.75" stroke="#18202c" stroke-width="1.1" fill="none"/><path d="M250.9 129.88L259.3 138.28M250.9 138.28L259.3 129.88" stroke="#18202c" stroke-width="1.1" fill="none"/><rect x="206" y="137.41" width="7.6" height="7.6" fill="#f4f8fc" stroke="#18202c" stroke-width="0.8"/><path d="M206 137.41L213.6 145.01M206 145.01L213.6 137.41" stroke="#18202c" stroke-width="0.8"/><path d="M204 144.14L212.4 152.54M204 152.54L212.4 144.14" stroke="#18202c" stroke-width="1.1" fill="none"/><path d="M195.9 151.28L204.3 159.68M195.9 159.68L204.3 151.28" stroke="#18202c" stroke-width="1.1" fill="none"/><path d="M183.5 158.41L191.9 166.81M183.5 166.81L191.9 158.41" stroke="#18202c" stroke-width="1.1" fill="none"/><path d="M177.8 165.54L186.2 173.94M177.8 173.94L186.2 165.54" stroke="#18202c" stroke-width="1.1" fill="none"/><path d="M162.8 172.67L171.2 181.07M162.8 181.07L171.2 172.67" stroke="#18202c" stroke-width="1.1" fill="none"/><path d="M161.2 179.8L169.6 188.2M161.2 188.2L169.6 179.8" stroke="#18202c" stroke-width="1.1" fill="none"/><path d="M159.1 186.94L167.5 195.34M159.1 195.34L167.5 186.94" stroke="#18202c" stroke-width="1.1" fill="none"/><path d="M152.6 194.07L161 202.47M152.6 202.47L161 194.07" stroke="#18202c" stroke-width="1.1" fill="none"/><path d="M151.5 201.2L159.9 209.6M151.5 209.6L159.9 201.2" stroke="#18202c" stroke-width="1.1" fill="none"/><path d="M150.9 208.33L159.3 216.73M150.9 216.73L159.3 208.33" stroke="#18202c" stroke-width="1.1" fill="none"/><rect x="148.9" y="215.86" width="7.6" height="7.6" fill="#f4f8fc" stroke="#18202c" stroke-width="0.8"/><path d="M148.9 215.86L156.5 223.46M148.9 223.46L156.5 215.86" stroke="#18202c" stroke-width="0.8"/><rect x="145.8" y="223" width="7.6" height="7.6" fill="#f4f8fc" stroke="#18202c" stroke-width="0.8"/><path d="M145.8 223L153.4 230.6M145.8 230.6L153.4 223" stroke="#18202c" stroke-width="0.8"/><path d="M141.3 229.73L149.7 238.13M141.3 238.13L149.7 229.73" stroke="#18202c" stroke-width="1.1" fill="none"/><path d="M136.5 236.86L144.9 245.26M136.5 245.26L144.9 236.86" stroke="#18202c" stroke-width="1.1" fill="none"/><path d="M133.4 243.99L141.8 252.39M133.4 252.39L141.8 243.99" stroke="#18202c" stroke-width="1.1" fill="none"/><path d="M133.1 251.12L141.5 259.52M133.1 259.52L141.5 251.12" stroke="#18202c" stroke-width="1.1" fill="none"/><path d="M129.4 258.26L137.8 266.66M129.4 266.66L137.8 258.26" stroke="#18202c" stroke-width="1.1" fill="none"/><path d="M128.1 265.39L136.5 273.79M128.1 273.79L136.5 265.39" stroke="#18202c" stroke-width="1.1" fill="none"/><path d="M124.8 272.52L133.2 280.92M124.8 280.92L133.2 272.52" stroke="#18202c" stroke-width="1.1" fill="none"/><path d="M124.8 279.65L133.2 288.05M124.8 288.05L133.2 279.65" stroke="#18202c" stroke-width="1.1" fill="none"/><rect x="123.8" y="287.18" width="7.6" height="7.6" fill="#f4f8fc" stroke="#18202c" stroke-width="0.8"/><path d="M123.8 287.18L131.4 294.78M123.8 294.78L131.4 287.18" stroke="#18202c" stroke-width="0.8"/><path d="M123.3 293.92L131.7 302.32M123.3 302.32L131.7 293.92" stroke="#18202c" stroke-width="1.1" fill="none"/><rect x="121.7" y="301.45" width="7.6" height="7.6" fill="#f4f8fc" stroke="#18202c" stroke-width="0.8"/><path d="M121.7 301.45L129.3 309.05M121.7 309.05L129.3 301.45" stroke="#18202c" stroke-width="0.8"/><path d="M120.1 308.18L128.5 316.58M120.1 316.58L128.5 308.18" stroke="#18202c" stroke-width="1.1" fill="none"/><rect x="119.1" y="315.71" width="7.6" height="7.6" fill="#f4f8fc" stroke="#18202c" stroke-width="0.8"/><path d="M119.1 315.71L126.7 323.31M119.1 323.31L126.7 315.71" stroke="#18202c" stroke-width="0.8"/><rect x="116.5" y="322.84" width="7.6" height="7.6" fill="#f4f8fc" stroke="#18202c" stroke-width="0.8"/><path d="M116.5 322.84L124.1 330.44M116.5 330.44L124.1 322.84" stroke="#18202c" stroke-width="0.8"/><rect x="115.4" y="329.98" width="7.6" height="7.6" fill="#f4f8fc" stroke="#18202c" stroke-width="0.8"/><path d="M115.4 329.98L123 337.58M115.4 337.58L123 329.98" stroke="#18202c" stroke-width="0.8"/><rect x="112.1" y="337.11" width="7.6" height="7.6" fill="#f4f8fc" stroke="#18202c" stroke-width="0.8"/><path d="M112.1 337.11L119.7 344.71M112.1 344.71L119.7 337.11" stroke="#18202c" stroke-width="0.8"/><rect x="111.6" y="344.24" width="7.6" height="7.6" fill="#f4f8fc" stroke="#18202c" stroke-width="0.8"/><path d="M111.6 344.24L119.2 351.84M111.6 351.84L119.2 344.24" stroke="#18202c" stroke-width="0.8"/><rect x="109.8" y="351.37" width="7.6" height="7.6" fill="#f4f8fc" stroke="#18202c" stroke-width="0.8"/><path d="M109.8 351.37L117.4 358.97M109.8 358.97L117.4 351.37" stroke="#18202c" stroke-width="0.8"/><path d="M107.8 358.1L116.2 366.5M107.8 366.5L116.2 358.1" stroke="#18202c" stroke-width="1.1" fill="none"/><path d="M104.5 365.24L112.9 373.64M104.5 373.64L112.9 365.24" stroke="#18202c" stroke-width="1.1" fill="none"/><rect x="103.4" y="372.77" width="7.6" height="7.6" fill="#f4f8fc" stroke="#18202c" stroke-width="0.8"/><path d="M103.4 372.77L111 380.37M103.4 380.37L111 372.77" stroke="#18202c" stroke-width="0.8"/></g>
<g><path d="M302 227.8L306.5 232.3L302 236.8L297.5 232.3Z" fill="#f2c116" stroke="#4a3a08" stroke-width="1.2"/><rect x="298.9" y="247.1" width="6.2" height="6.2" fill="#4a1c5c" stroke="#1a0a20" stroke-width="0.9"/><path d="M302 263.1L306.6 267.7L302 272.3L297.4 267.7Z" fill="#a8102e" stroke="#3a0610" stroke-width="1.1"/><path d="M302 282.6L306.2 289.7L297.8 289.7Z" fill="#2a9a35"/><path d="M298 300.1L306 308.1M298 308.1L306 300.1" stroke="#2b3350" stroke-width="0.9" fill="none"/><rect x="298.2" y="317.5" width="7.6" height="7.6" fill="#fff" stroke="#222" stroke-width="0.85"/><path d="M298.2 317.5L305.8 325.1M298.2 325.1L305.8 317.5" stroke="#222" stroke-width="0.85"/><path d="M296.5 338.7L307.5 338.7M302 333.2L302 344.2" stroke="#444" stroke-width="1"/></g>
<g font-size="6.8" fill="#2e2e2e" stroke="#2e2e2e" stroke-width="0.1"><text x="312.7" y="235.1" textLength="22.4" lengthAdjust="spacingAndGlyphs">CR/CRi</text><text x="312.7" y="252.6" textLength="47.3" lengthAdjust="spacingAndGlyphs">Off inotuzumab</text><text x="312.7" y="270.1" textLength="23.8" lengthAdjust="spacingAndGlyphs">Relapse</text><text x="312.7" y="288.9" textLength="17.0" lengthAdjust="spacingAndGlyphs">HSCT</text><text x="312.7" y="306.5" textLength="57.8" lengthAdjust="spacingAndGlyphs">Death post relapse</text><text x="312.7" y="324.6" textLength="56.3" lengthAdjust="spacingAndGlyphs">Death in remission</text><text x="312.7" y="341.8" textLength="61.3" lengthAdjust="spacingAndGlyphs">Continued response</text></g>
<rect x="214" y="452" width="59.2" height="26.7" fill="#c7cae1"/>
<rect x="124.5" y="497.2" width="46.4" height="29.2" fill="#c7cae1"/>
<rect x="315" y="497.1" width="60.8" height="29.3" fill="#c7cae1"/>
<rect x="124.5" y="537.3" width="46.4" height="25.3" fill="#c7cae1"/>
<rect x="26.7" y="588.2" width="45.1" height="29.9" fill="#c7cae1"/>
<rect x="128.8" y="588.2" width="40.5" height="30" fill="#c7cae1"/>
<rect x="221.7" y="585" width="56.3" height="35.8" fill="#c7cae1"/>
<path d="M243.6 478.7V490.1M147.5 497.2V490.1H345.6V497.1M147.5 526.4V537.3M147.5 562.6V580.1M49 588.2V580.1H250V585M147.5 580.1V588.2" stroke="#1a1a1a" stroke-width="1.1" fill="none"/>
<g font-size="7.2" stroke-width="0"><clipPath id="c49390"><circle cx="296" cy="464.3" r="18.1"/></clipPath><circle cx="296" cy="464.3" r="18.1" fill="#e1e2f0"/><circle cx="309.8" cy="464.3" r="14.7" fill="#fdf2e3"/><circle cx="309.8" cy="464.3" r="14.7" fill="#e4cfcf" clip-path="url(#c49390)"/><circle cx="309.8" cy="464.3" r="14.7" fill="none" stroke="#e2ab55" stroke-width="0.9"/><circle cx="309.8" cy="464.3" r="14.7" fill="none" stroke="#9c8a78" stroke-width="0.9" clip-path="url(#c49390)"/><circle cx="296" cy="464.3" r="18.1" fill="none" stroke="#535a7c" stroke-width="1.1"/><text x="287.2" y="466.19" fill="#31508c" text-anchor="middle">42</text><text x="305.1" y="466.19" fill="#c8244c" text-anchor="middle">28</text><text x="319.3" y="466.19" fill="#e9a443" text-anchor="middle">15</text></g>
<g font-size="6.6" stroke-width="0"><clipPath id="c53129"><circle cx="186.9" cy="512.6" r="13.9"/></clipPath><circle cx="186.9" cy="512.6" r="13.9" fill="#e1e2f0"/><circle cx="197.9" cy="512.6" r="11.4" fill="#fdf2e3"/><circle cx="197.9" cy="512.6" r="11.4" fill="#e4cfcf" clip-path="url(#c53129)"/><circle cx="197.9" cy="512.6" r="11.4" fill="none" stroke="#e2ab55" stroke-width="0.9"/><circle cx="197.9" cy="512.6" r="11.4" fill="none" stroke="#9c8a78" stroke-width="0.9" clip-path="url(#c53129)"/><circle cx="186.9" cy="512.6" r="13.9" fill="none" stroke="#535a7c" stroke-width="1.1"/><text x="180.45" y="514.28" fill="#31508c" text-anchor="middle">24</text><text x="194.15" y="514.28" fill="#c8244c" text-anchor="middle">15</text><text x="205.05" y="514.28" fill="#e9a443" text-anchor="middle">12</text></g>
<g font-size="6.6" stroke-width="0"><clipPath id="c56737"><circle cx="185.8" cy="548.8" r="12.9"/></clipPath><circle cx="185.8" cy="548.8" r="12.9" fill="#e1e2f0"/><circle cx="196.9" cy="548.8" r="12.9" fill="#fdf2e3"/><circle cx="196.9" cy="548.8" r="12.9" fill="#e4cfcf" clip-path="url(#c56737)"/><circle cx="196.9" cy="548.8" r="12.9" fill="none" stroke="#e2ab55" stroke-width="0.9"/><circle cx="196.9" cy="548.8" r="12.9" fill="none" stroke="#9c8a78" stroke-width="0.9" clip-path="url(#c56737)"/><circle cx="185.8" cy="548.8" r="12.9" fill="none" stroke="#535a7c" stroke-width="1.1"/><text x="179.15" y="550.48" fill="#31508c" text-anchor="middle">10</text><text x="191.85" y="550.48" fill="#c8244c" text-anchor="middle">14</text><text x="204.25" y="550.48" fill="#e9a443" text-anchor="middle">11</text></g>
<g font-size="6.6" stroke-width="0"><clipPath id="c55079"><circle cx="390.9" cy="511.7" r="13.6"/></clipPath><circle cx="390.9" cy="511.7" r="13.6" fill="#e1e2f0"/><circle cx="402.3" cy="511.7" r="9.7" fill="#fdf2e3"/><circle cx="402.3" cy="511.7" r="9.7" fill="#e4cfcf" clip-path="url(#c55079)"/><circle cx="402.3" cy="511.7" r="9.7" fill="none" stroke="#e2ab55" stroke-width="0.9"/><circle cx="402.3" cy="511.7" r="9.7" fill="none" stroke="#9c8a78" stroke-width="0.9" clip-path="url(#c55079)"/><circle cx="390.9" cy="511.7" r="13.6" fill="none" stroke="#535a7c" stroke-width="1.1"/><text x="385.65" y="513.38" fill="#31508c" text-anchor="middle">18</text><text x="399.05" y="513.38" fill="#c8244c" text-anchor="middle">13</text><text x="408.25" y="513.38" fill="#e9a443" text-anchor="middle">3</text></g>
<g font-size="6.6" stroke-width="0"><clipPath id="c61208"><circle cx="86.8" cy="603.4" r="13.6"/></clipPath><circle cx="86.8" cy="603.4" r="13.6" fill="#e1e2f0"/><circle cx="98.4" cy="603.4" r="13.4" fill="#fdf2e3"/><circle cx="98.4" cy="603.4" r="13.4" fill="#e4cfcf" clip-path="url(#c61208)"/><circle cx="98.4" cy="603.4" r="13.4" fill="none" stroke="#e2ab55" stroke-width="0.9"/><circle cx="98.4" cy="603.4" r="13.4" fill="none" stroke="#9c8a78" stroke-width="0.9" clip-path="url(#c61208)"/><circle cx="86.8" cy="603.4" r="13.6" fill="none" stroke="#535a7c" stroke-width="1.1"/><text x="79.8" y="605.08" fill="#31508c" text-anchor="middle">2</text><text x="93.2" y="605.08" fill="#c8244c" text-anchor="middle">6</text><text x="106.1" y="605.08" fill="#e9a443" text-anchor="middle">3</text></g>
<g font-size="6.6" stroke-width="0"><clipPath id="c62110"><circle cx="185" cy="602.6" r="13.7"/></clipPath><circle cx="185" cy="602.6" r="13.7" fill="#e1e2f0"/><circle cx="195" cy="602.6" r="11.3" fill="#fdf2e3"/><circle cx="195" cy="602.6" r="11.3" fill="#e4cfcf" clip-path="url(#c62110)"/><circle cx="195" cy="602.6" r="11.3" fill="none" stroke="#e2ab55" stroke-width="0.9"/><circle cx="195" cy="602.6" r="11.3" fill="none" stroke="#9c8a78" stroke-width="0.9" clip-path="url(#c62110)"/><circle cx="185" cy="602.6" r="13.7" fill="none" stroke="#535a7c" stroke-width="1.1"/><text x="178.2" y="604.28" fill="#31508c" text-anchor="middle">4</text><text x="191.7" y="604.28" fill="#c8244c" text-anchor="middle">2</text><text x="202.5" y="604.28" fill="#e9a443" text-anchor="middle">1</text></g>
<g font-size="6.6" stroke-width="0"><clipPath id="c63262"><circle cx="293.3" cy="603.3" r="13.7"/></clipPath><circle cx="293.3" cy="603.3" r="13.7" fill="#e1e2f0"/><circle cx="305" cy="603.3" r="13.7" fill="#fdf2e3"/><circle cx="305" cy="603.3" r="13.7" fill="#e4cfcf" clip-path="url(#c63262)"/><circle cx="305" cy="603.3" r="13.7" fill="none" stroke="#e2ab55" stroke-width="0.9"/><circle cx="305" cy="603.3" r="13.7" fill="none" stroke="#9c8a78" stroke-width="0.9" clip-path="url(#c63262)"/><circle cx="293.3" cy="603.3" r="13.7" fill="none" stroke="#535a7c" stroke-width="1.1"/><text x="286.15" y="604.98" fill="#31508c" text-anchor="middle">4</text><text x="299.65" y="604.98" fill="#c8244c" text-anchor="middle">6</text><text x="312.85" y="604.98" fill="#e9a443" text-anchor="middle">7</text></g>
<g font-size="6.6" stroke-width="0"><clipPath id="c62831"><circle cx="445.2" cy="583.8" r="16.6"/></clipPath><circle cx="445.2" cy="583.8" r="16.6" fill="#e1e2f0"/><circle cx="457" cy="583.8" r="14" fill="#fdf2e3"/><circle cx="457" cy="583.8" r="14" fill="#e4cfcf" clip-path="url(#c62831)"/><circle cx="457" cy="583.8" r="14" fill="none" stroke="#e2ab55" stroke-width="0.9"/><circle cx="457" cy="583.8" r="14" fill="none" stroke="#9c8a78" stroke-width="0.9" clip-path="url(#c62831)"/><circle cx="445.2" cy="583.8" r="16.6" fill="none" stroke="#535a7c" stroke-width="1.1"/></g>
<g font-size="6.5" fill="#2e2e40" stroke="#2e2e40" stroke-width="0.1"><text x="243.6" y="463.4" text-anchor="middle" textLength="39.7" lengthAdjust="spacingAndGlyphs">N = 85 B-cell</text><text x="243.6" y="471.5" text-anchor="middle" textLength="37.3" lengthAdjust="spacingAndGlyphs">ALL patients</text><text x="147.75" y="509.9" text-anchor="middle" textLength="32.3" lengthAdjust="spacingAndGlyphs">Responder</text><text x="147.75" y="517.9" text-anchor="middle" textLength="24.4" lengthAdjust="spacingAndGlyphs">(n = 51)</text><text x="345.3" y="509.6" text-anchor="middle" textLength="45.6" lengthAdjust="spacingAndGlyphs">Non-responder</text><text x="345.3" y="517.5" text-anchor="middle" textLength="23.4" lengthAdjust="spacingAndGlyphs">(n = 34)</text><text x="147.7" y="547.9" text-anchor="middle" textLength="24.1" lengthAdjust="spacingAndGlyphs">Relapse</text><text x="147.7" y="556.1" text-anchor="middle" textLength="24.4" lengthAdjust="spacingAndGlyphs">(n = 35)</text><text x="48.95" y="601.0" text-anchor="middle" textLength="34.1" lengthAdjust="spacingAndGlyphs">During InO</text><text x="48.95" y="609.1" text-anchor="middle" textLength="23.2" lengthAdjust="spacingAndGlyphs">(n = 11)</text><text x="149.05" y="600.8" text-anchor="middle" textLength="28.7" lengthAdjust="spacingAndGlyphs">After InO</text><text x="149.05" y="608.8" text-anchor="middle" textLength="20.1" lengthAdjust="spacingAndGlyphs">(n = 7)</text><text x="250" y="597.0" text-anchor="middle" textLength="41.5" lengthAdjust="spacingAndGlyphs">After InO and</text><text x="250" y="605.2" text-anchor="middle" textLength="35.1" lengthAdjust="spacingAndGlyphs">subsequent</text><text x="250" y="612.4" text-anchor="middle" textLength="42.6" lengthAdjust="spacingAndGlyphs">HSCT (n = 17)</text></g>
<text x="151.7" y="573.3" font-size="6.7" fill="#333" textLength="50.5" lengthAdjust="spacingAndGlyphs">timing of relapse</text>
<text x="424.8" y="564.4" font-size="6.7" fill="#222" stroke="#222" stroke-width="0.12" textLength="58.2" lengthAdjust="spacingAndGlyphs">number of samples</text>
<text x="418.5" y="585.2" font-size="6.7" fill="#3c5a96" textLength="24.3" lengthAdjust="spacingAndGlyphs">pre-InO</text>
<text x="465.4" y="585.2" font-size="6.7" fill="#e9a443" textLength="27.1" lengthAdjust="spacingAndGlyphs">post-InO</text>
<path d="M455.5 587L458.2 601.8" stroke="#c0284c" stroke-width="0.9"/>
<text x="460.7" y="608.4" font-size="6.7" fill="#c0284c" text-anchor="middle" textLength="19.1" lengthAdjust="spacingAndGlyphs">pre- &amp;</text>
<text x="460.2" y="615.8" font-size="6.7" fill="#c0284c" text-anchor="middle" textLength="26.4" lengthAdjust="spacingAndGlyphs">post-InO</text>
</svg>
</body></html>
